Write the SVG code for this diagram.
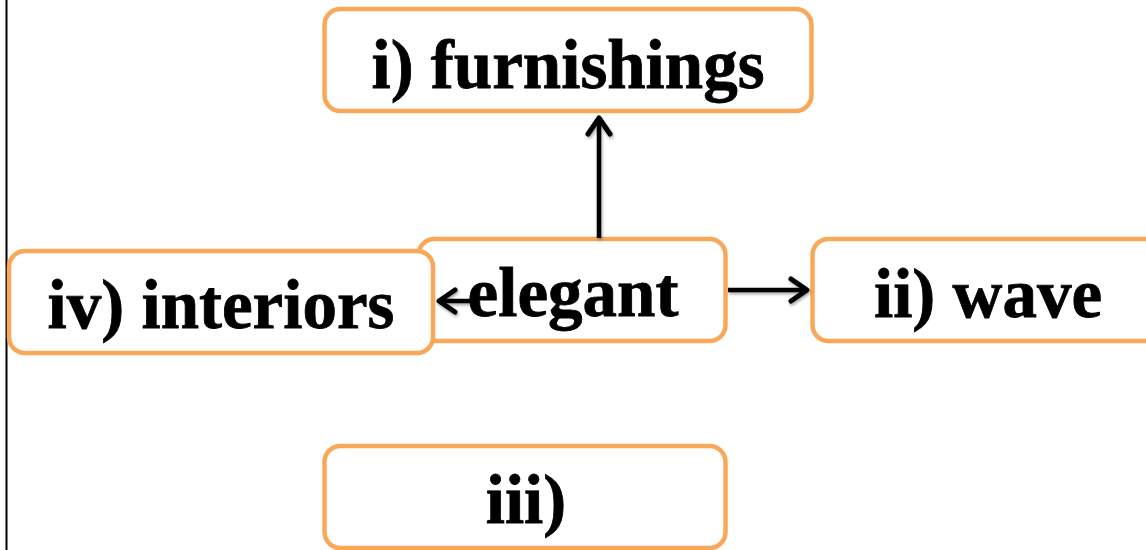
<svg xmlns="http://www.w3.org/2000/svg" width="1146" height="550" viewBox="0 0 1146 550">
  <style>
    .box { fill: #ffffff; stroke: #F9A85A; stroke-width: 4.5; }
    .lbl { font-family: "Liberation Serif", "Times New Roman", serif; font-weight: bold; font-size: 69px; fill: #000000; text-anchor: middle; stroke: #000; stroke-width: 0.8; }
    .conn { stroke: #000000; stroke-width: 4.5; fill: none; }
  </style>
  <defs>
    <marker id="arr" viewBox="0 0 24 28" refX="20" refY="14" markerWidth="24" markerHeight="28" markerUnits="userSpaceOnUse" orient="auto">
      <path d="M4,3 L20,14 L4,25" fill="none" stroke="#000" stroke-width="5" stroke-linecap="round" stroke-linejoin="round"/>
    </marker>
    <filter id="sh" x="-20%" y="-20%" width="140%" height="140%">
      <feDropShadow dx="1" dy="2" stdDeviation="1.5" flood-color="#000" flood-opacity="0.35"/>
    </filter>
  </defs>
  <rect width="1146" height="550" fill="#ffffff"/>
  <line x1="6.5" y1="0" x2="6.5" y2="550" stroke="#000" stroke-width="2"/>

  <g id="node-furnishings">
    <rect class="box" x="324.5" y="9" width="487" height="102" rx="16"/>
    <text class="lbl" x="568" y="88">i) furnishings</text>
  </g>
  <g id="node-wave">
    <rect class="box" x="812.5" y="239" width="360" height="102" rx="16"/>
    <text class="lbl" x="988" y="317">ii) wave</text>
  </g>
  <g id="node-iii">
    <rect class="box" x="324.5" y="446" width="401" height="102" rx="16"/>
    <text class="lbl" x="526" y="523">iii)</text>
  </g>
  <g id="node-elegant">
    <rect class="box" x="418.5" y="239" width="307" height="102" rx="16"/>
    <text class="lbl" x="573" y="316">elegant</text>
  </g>
  <g id="node-interiors">
    <rect class="box" x="9" y="251" width="424" height="102" rx="16"/>
    <text class="lbl" x="221" y="328">iv) interiors</text>
  </g>

  <g id="connectors" filter="url(#sh)">
    <line class="conn" x1="599" y1="238" x2="599" y2="118" marker-end="url(#arr)"/>
    <line class="conn" x1="728" y1="290" x2="807" y2="290" marker-end="url(#arr)"/>
    <line class="conn" x1="470" y1="301" x2="439" y2="301" marker-end="url(#arr)"/>
  </g>
</svg>
